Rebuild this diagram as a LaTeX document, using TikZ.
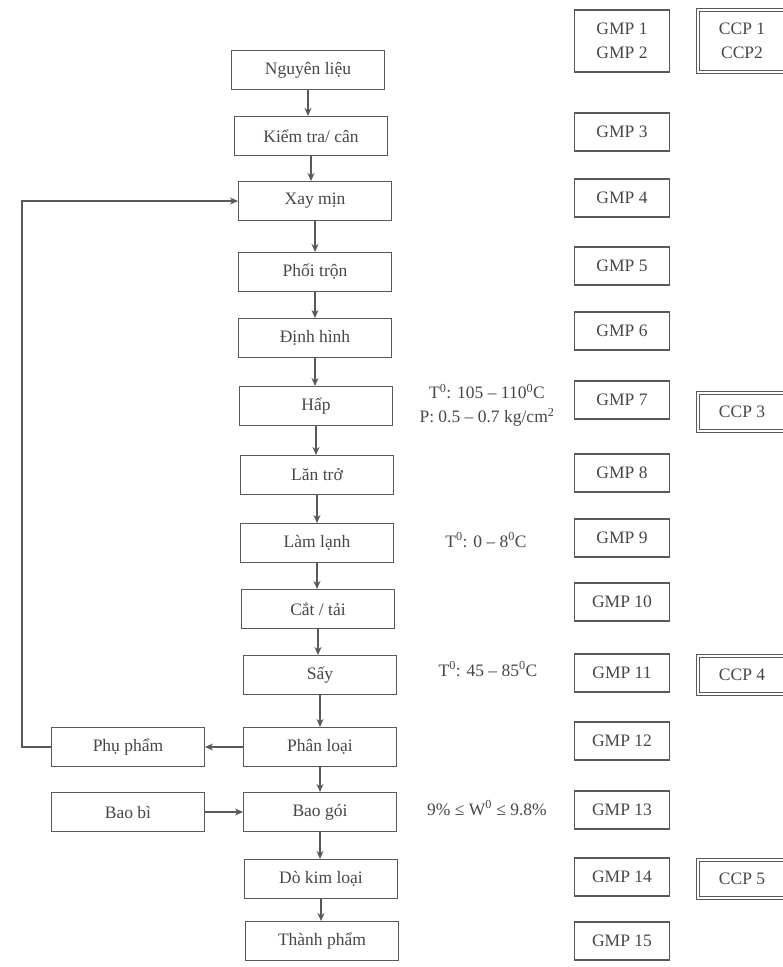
\documentclass[tikz,border=0pt]{standalone}
\usepackage{fontspec}
\setmainfont{Liberation Serif}
\usetikzlibrary{arrows.meta}
\begin{document}
\begin{tikzpicture}[x=1pt,y=-1pt,
  every node/.style={font=\fontsize{17.5}{24}\selectfont, text=black!72},
  proc/.style={draw=black!65, line width=1.1pt, minimum width=153pt, minimum height=39pt, inner sep=0pt},
  gmp/.style={draw=black!65, line width=1.1pt, minimum width=95pt, minimum height=38pt, inner sep=0pt, align=center},
  ccp/.style={draw=black!65, double=white, double distance=2.2pt, line width=1pt, minimum width=88pt, minimum height=38pt, inner sep=0pt, align=center},
  arr/.style={draw=black!65, line width=1.1pt, -{Stealth[length=8pt,width=7pt]}},
  note/.style={align=center, inner sep=0pt}]
\clip (0,0) rectangle (783,967);
\fill[white] (0,0) rectangle (783,967);
% main column
\node[proc] (n1) at (308,70) {Nguyên liệu};
\node[proc] (n2) at (311,136) {Kiểm tra/ cân};
\node[proc] (n3) at (315,201) {Xay mịn};
\node[proc] (n4) at (315,272) {Phối trộn};
\node[proc] (n5) at (315,338) {Định hình};
\node[proc] (n6) at (316,406) {Hấp};
\node[proc] (n7) at (317,475) {Lăn trở};
\node[proc] (n8) at (317,543) {Làm lạnh};
\node[proc] (n9) at (318,609) {Cắt / tải};
\node[proc] (n10) at (320,675) {Sấy};
\node[proc] (n11) at (320,747) {Phân loại};
\node[proc] (n12) at (320,812) {Bao gói};
\node[proc] (n13) at (321,879) {Dò kim loại};
\node[proc] (n14) at (322,941) {Thành phẩm};
% side boxes
\node[proc] (pp) at (128,747) {Phụ phẩm};
\node[proc] (bb) at (128,812) {Bao bì};
% vertical arrows
\foreach \a/\b in {n1/n2,n2/n3,n3/n4,n4/n5,n5/n6,n6/n7,n7/n8,n8/n9,n9/n10,n10/n11,n11/n12,n12/n13,n13/n14}
  \draw[arr] (\a.south) -- (\a.south |- \b.north);
% side arrows
\draw[arr] (n11.west) -- (pp.east);
\draw[arr] (bb.east) -- (n12.west);
\coordinate (lc) at (22,0);
\draw[arr] (pp.west) -- (pp.west -| lc) |- (n3.west);
% notes
\node[note] (t1) at (487,405) {T\textsuperscript{0}: 105 – 110\textsuperscript{0}C\\P: 0.5 – 0.7 kg/cm\textsuperscript{2}};
\node[note] (t2) at (486,540) {T\textsuperscript{0}: 0 – 8\textsuperscript{0}C};
\node[note] (t3) at (488,669) {T\textsuperscript{0}: 45 – 85\textsuperscript{0}C};
\node[note] (t4) at (487,808) {9\% ≤ W\textsuperscript{0} ≤ 9.8\%};
% GMP column
\node[gmp, minimum height=62pt] (g1) at (622,41) {GMP 1\\GMP 2};
\node[gmp] (g3) at (622,132) {GMP 3};
\node[gmp] (g4) at (622,198) {GMP 4};
\node[gmp] (g5) at (622,266) {GMP 5};
\node[gmp] (g6) at (622,331) {GMP 6};
\node[gmp] (g7) at (622,400) {GMP 7};
\node[gmp] (g8) at (622,473) {GMP 8};
\node[gmp] (g9) at (622,538) {GMP 9};
\node[gmp] (g10) at (622,602) {GMP 10};
\node[gmp] (g11) at (622,673) {GMP 11};
\node[gmp] (g12) at (622,741) {GMP 12};
\node[gmp] (g13) at (622,810) {GMP 13};
\node[gmp] (g14) at (622,877) {GMP 14};
\node[gmp] (g15) at (622,941) {GMP 15};
% CCP column
\node[ccp, minimum height=62pt] (c1) at (742,41) {CCP 1\\CCP2};
\node[ccp] (c3) at (742,412) {CCP 3};
\node[ccp] (c4) at (742,675) {CCP 4};
\node[ccp] (c5) at (742,879) {CCP 5};
\end{tikzpicture}
\end{document}
